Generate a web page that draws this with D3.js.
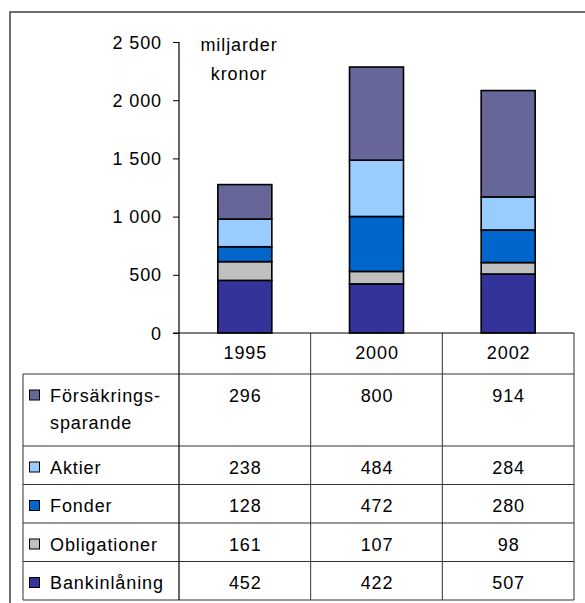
<!DOCTYPE html>
<html>
<head>
<meta charset="utf-8">
<script src="https://cdn.jsdelivr.net/npm/d3@7"></script>
<style>
  body { margin: 0; background: #fff; }
  text { font-family: "Liberation Sans", Arial, sans-serif; font-size: 18px; letter-spacing: 0.9px; fill: #000; }
</style>
</head>
<body>
<div id="chartDiv"></div>
<script>
// data
const years = ['1995', '2000', '2002'];
const seriesNames = ['Bankinlåning', 'Obligationer', 'Fonder', 'Aktier', 'Försäkringssparande'];
const seriesColors = ['#333399', '#c0c0c0', '#0066cc', '#99ccff', '#666699'];
const bankinlaning = [452, 422, 507];
const obligationer = [161, 107, 98];
const fonder = [128, 472, 280];
const aktier = [238, 484, 284];
const forsakring = [296, 800, 914];
const yTicks = [0, 500, 1000, 1500, 2000, 2500];
const unitLabel = ['miljarder', 'kronor'];
// table rows, top to bottom (legend label lines + values)
const tableRows = [
  { key: 'Försäkringssparande', label: ['Försäkrings-', 'sparande'], values: forsakring },
  { key: 'Aktier', label: ['Aktier'], values: aktier },
  { key: 'Fonder', label: ['Fonder'], values: fonder },
  { key: 'Obligationer', label: ['Obligationer'], values: obligationer },
  { key: 'Bankinlåning', label: ['Bankinlåning'], values: bankinlaning }
];

const W = 585, H = 603;
const svg = d3.select('#chartDiv').append('svg').attr('width', W).attr('height', H);

// outer frame (open to the right and bottom)
svg.append('path')
  .attr('d', `M10,${H + 5}V12H${W + 5}`)
  .attr('fill', 'none').attr('stroke', '#404040').attr('stroke-width', 1.5);

const axisX = 179, tableRight = 574, tableLeft = 23;
const x = d3.scaleBand().domain(years).range([axisX, tableRight]).padding(0);
const y = d3.scaleLinear().domain([0, 2500]).range([333, 42]);

const color = d3.scaleOrdinal().domain(seriesNames).range(seriesColors);

// stacked bars
const rows = years.map((yr, i) => ({
  year: yr,
  'Bankinlåning': bankinlaning[i],
  'Obligationer': obligationer[i],
  'Fonder': fonder[i],
  'Aktier': aktier[i],
  'Försäkringssparande': forsakring[i]
}));
const stack = d3.stack().keys(seriesNames)(rows);
const barW = x.bandwidth() * 0.41;

svg.append('g').selectAll('g')
  .data(stack)
  .join('g')
  .attr('fill', d => color(d.key))
  .selectAll('rect')
  .data(d => d)
  .join('rect')
  .attr('x', d => x(d.data.year) + (x.bandwidth() - barW) / 2)
  .attr('y', d => y(d[1]))
  .attr('width', barW)
  .attr('height', d => y(d[0]) - y(d[1]))
  .attr('stroke', '#000')
  .attr('stroke-width', 1.6);

// y axis
const fmt = d3.formatLocale({ decimal: ',', thousands: '\u00a0', grouping: [3], currency: ['', ''] }).format(',');
const yAxis = svg.append('g')
  .attr('transform', `translate(${axisX},0)`)
  .call(d3.axisLeft(y).tickValues(yTicks).tickFormat(fmt).tickSize(6).tickSizeOuter(0).tickPadding(11));
yAxis.select('.domain').remove();
yAxis.selectAll('.tick line').attr('stroke', '#000');
yAxis.selectAll('.tick text').attr('font-size', null).attr('font-family', null).attr('dy', '0.34em');

svg.append('text').attr('x', 239).attr('y', 51).attr('text-anchor', 'middle').text(unitLabel[0]);
svg.append('text').attr('x', 239).attr('y', 80).attr('text-anchor', 'middle').text(unitLabel[1]);

// table
const headerTop = y(0), headerBottom = 374;
const rowHeights = [72, 38.5, 38.5, 38.5, 38.5];
const rowTops = [];
rowHeights.reduce((acc, h) => { rowTops.push(acc); return acc + h; }, headerBottom);
const tableBottom = headerBottom + d3.sum(rowHeights);

const grid = svg.append('g').attr('stroke', '#333').attr('stroke-width', 1).attr('fill', 'none');
// horizontal lines
rowTops.forEach(t => grid.append('line').attr('x1', tableLeft).attr('x2', tableRight).attr('y1', t).attr('y2', t));
grid.append('line').attr('x1', tableLeft).attr('x2', tableRight).attr('y1', tableBottom).attr('y2', tableBottom);
grid.append('line').attr('x1', tableLeft).attr('x2', tableLeft).attr('y1', headerBottom).attr('y2', tableBottom);
// column dividers
years.forEach((yr, i) => {
  if (i > 0) grid.append('line').attr('x1', x(yr)).attr('x2', x(yr)).attr('y1', headerTop).attr('y2', tableBottom);
});
grid.append('line').attr('x1', tableRight).attr('x2', tableRight).attr('y1', headerTop).attr('y2', tableBottom);

// axis line (continues through table) and zero line
svg.append('line').attr('x1', axisX).attr('x2', axisX).attr('y1', y(2500)).attr('y2', tableBottom)
  .attr('stroke', '#000').attr('stroke-width', 1.2);
svg.append('line').attr('x1', axisX - 6).attr('x2', tableRight).attr('y1', y(0)).attr('y2', y(0))
  .attr('stroke', '#000').attr('stroke-width', 1.2);

// header years
svg.append('g').selectAll('text')
  .data(years)
  .join('text')
  .attr('x', d => x(d) + x.bandwidth() / 2 + 0.5)
  .attr('y', 359)
  .attr('text-anchor', 'middle')
  .text(d => d);

// rows
const rowG = svg.append('g').selectAll('g')
  .data(tableRows)
  .join('g')
  .attr('transform', (d, i) => `translate(0,${rowTops[i] + 27.5})`);

rowG.append('rect')
  .attr('x', 29.5).attr('y', -11.5).attr('width', 10).attr('height', 10)
  .attr('fill', d => color(d.key)).attr('stroke', '#000').attr('stroke-width', 1);

rowG.each(function (d) {
  const g = d3.select(this);
  d.label.forEach((l, j) => {
    g.append('text').attr('x', 50).attr('y', j * 27).text(l);
  });
  d.values.forEach((v, j) => {
    g.append('text')
      .attr('x', x(years[j]) + x.bandwidth() / 2 + 0.5)
      .attr('y', 0)
      .attr('text-anchor', 'middle')
      .text(v);
  });
});
</script>
</body>
</html>
